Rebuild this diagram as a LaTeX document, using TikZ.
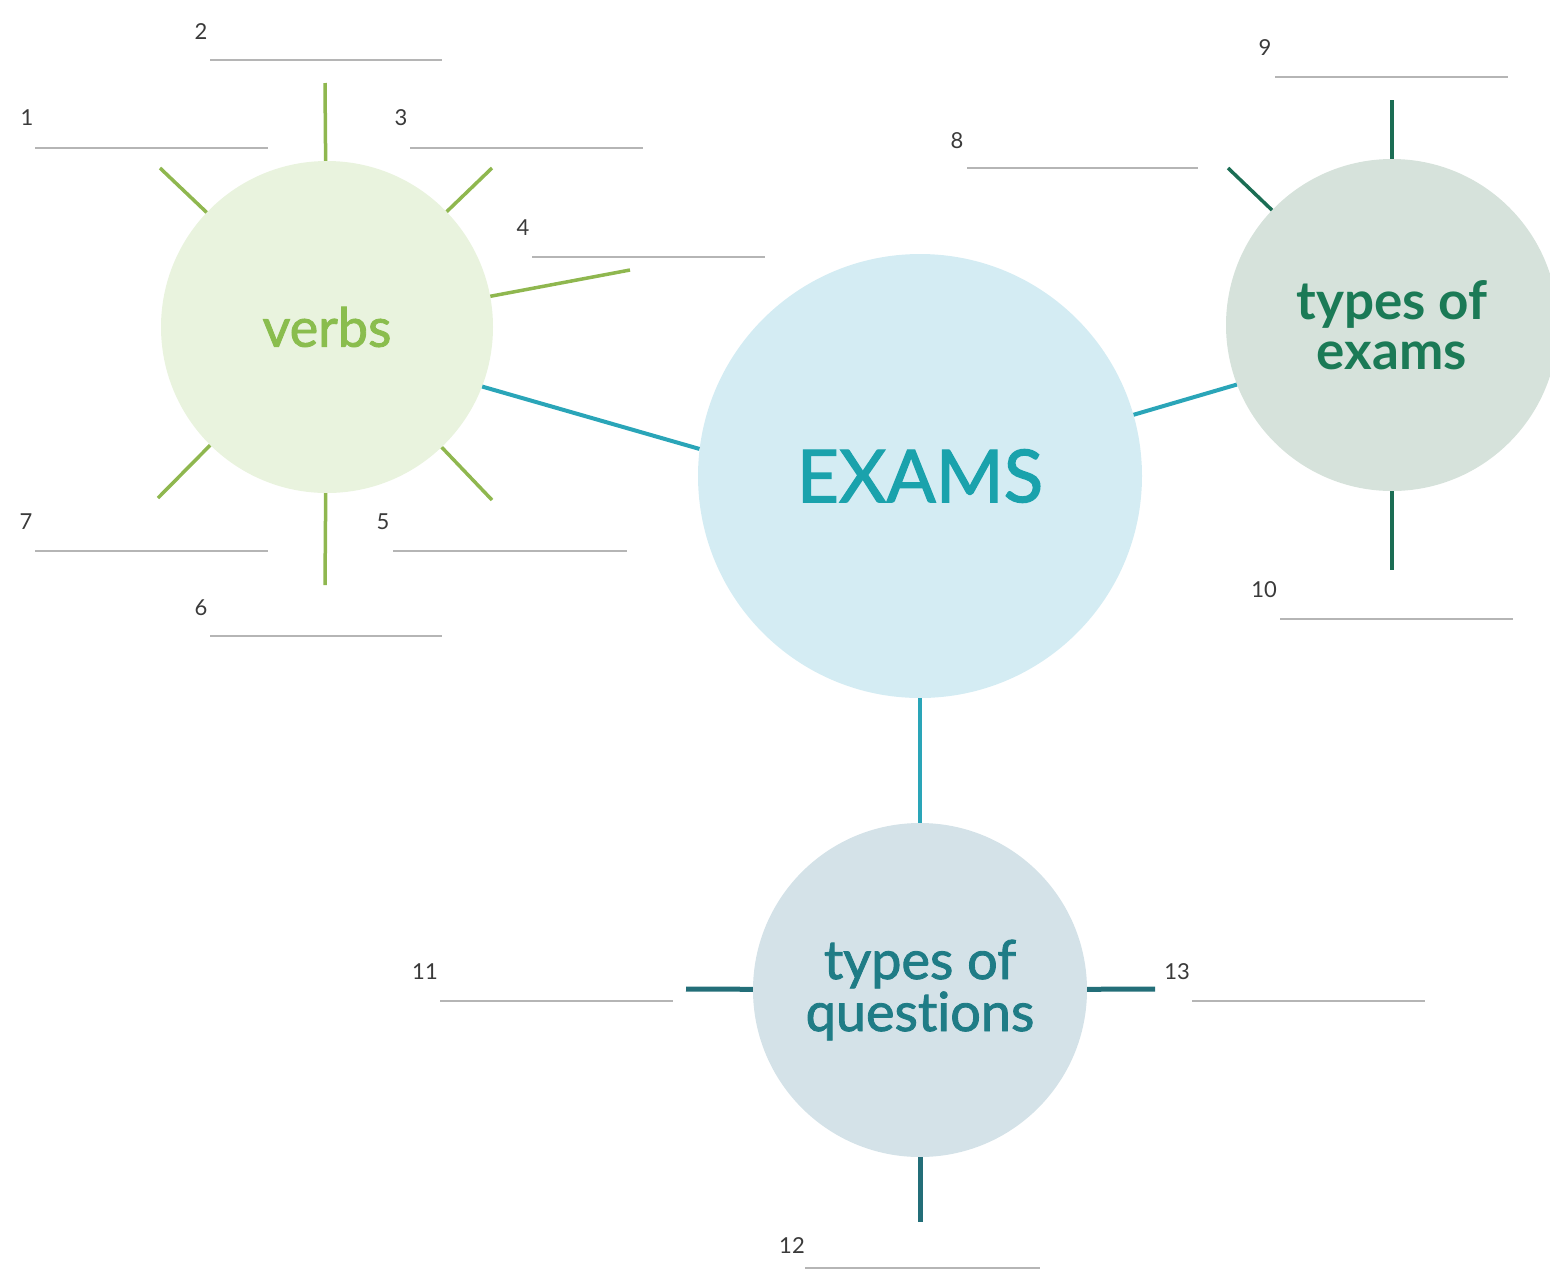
\documentclass[tikz,border=0pt]{standalone}
\usepackage{fontspec}
\setmainfont{Lato}
\newfontfamily\latobold[Ligatures=NoCommon]{Lato Bold}
\newfontfamily\latomed[Ligatures=NoCommon,RawFeature={embolden=1.6}]{Lato}
\definecolor{verbfill}{HTML}{E9F3DE}
\definecolor{verbtext}{HTML}{8ABD4E}
\definecolor{verbspoke}{HTML}{8FB74F}
\definecolor{examfill}{HTML}{D4ECF3}
\definecolor{examtext}{HTML}{1AA2AC}
\definecolor{examline}{HTML}{2AA5B8}
\definecolor{tefill}{HTML}{D6E2DB}
\definecolor{tetext}{HTML}{1B7A56}
\definecolor{tespoke}{HTML}{1B6D54}
\definecolor{tqfill}{HTML}{D4E2E8}
\definecolor{tqtext}{HTML}{1F7C86}
\definecolor{tqspoke}{HTML}{236E78}
\definecolor{blankgray}{HTML}{B5B5B5}
\definecolor{numgray}{HTML}{3A3A3A}
\tikzset{
  bubble/.style={circle, inner sep=0pt, align=center},
  numlabel/.style={font=\fontsize{22}{22}\selectfont, text=numgray, inner sep=0pt},
  blankline/.style={draw=blankgray, line width=2.2pt},
  vspoke/.style={draw=verbspoke, line width=3.5pt},
  tespokestyle/.style={draw=tespoke, line width=3.5pt},
  tqspokestyle/.style={draw=tqspoke, line width=5pt},
  mainlink/.style={draw=examline, line width=4pt},
}
\begin{document}
\begin{tikzpicture}[x=1pt,y=-1pt]
\useasboundingbox (0,0) rectangle (1550,1270);
% bubbles
\node[bubble, fill=verbfill, minimum size=332pt, text=verbtext,
      font=\latomed\fontsize{54}{54}\selectfont] (verbs) at (327,327) {verbs};
\node[bubble, fill=examfill, minimum size=444pt, text=examtext,
      font=\latomed\fontsize{73}{73}\selectfont] (exams) at (920,476) {EXAMS};
\node[bubble, fill=tefill, minimum size=332pt, text=tetext,
      font=\latobold\fontsize{53}{50}\selectfont] (texams) at (1392,325) {types of\\exams};
\node[bubble, fill=tqfill, minimum size=334pt, text=tqtext,
      font=\latomed\fontsize{54}{52}\selectfont] (tquest) at (920,990) {types of\\questions};

% main links
\draw[mainlink] (verbs.-21) -- (exams.173);
\draw[mainlink] (exams.16) -- (texams.201);
\draw[mainlink] (exams) -- (tquest);

% verbs spokes
\coordinate (v1) at (160,168);
\coordinate (v2) at (325,83);
\coordinate (v3) at (492,168);
\coordinate (v4) at (630,270);
\coordinate (v5) at (492,500);
\coordinate (v6) at (325,585);
\coordinate (v7) at (158,498);
\foreach \c in {v1,v2,v3,v4,v5,v6,v7} \draw[vspoke] (verbs) -- (\c);

% types of exams spokes
\coordinate (t8) at (1228,168);
\coordinate (t9) at (1392,100);
\coordinate (t10) at (1392,570);
\foreach \c in {t8,t9,t10} \draw[tespokestyle] (texams) -- (\c);

% types of questions spokes
\coordinate (q11) at (686,989);
\coordinate (q12) at (920,1222);
\coordinate (q13) at (1155,989);
\foreach \c in {q11,q12,q13} \draw[tqspokestyle] (tquest) -- (\c);

% numbered blanks
\node[numlabel] (n1) at (27,118) {1};
\draw[blankline] (35,148) -- (268,148);
\node[numlabel] (n2) at (201,32) {2};
\draw[blankline] (210,60) -- (442,60);
\node[numlabel] (n3) at (401,118) {3};
\draw[blankline] (410,148) -- (643,148);
\node[numlabel] (n4) at (523,228) {4};
\draw[blankline] (532,257) -- (765,257);
\node[numlabel] (n5) at (383,522) {5};
\draw[blankline] (393,551) -- (627,551);
\node[numlabel] (n6) at (201,608) {6};
\draw[blankline] (210,636) -- (442,636);
\node[numlabel] (n7) at (26,522) {7};
\draw[blankline] (35,551) -- (268,551);
\node[numlabel] (n8) at (957,141) {8};
\draw[blankline] (967,168) -- (1198,168);
\node[numlabel] (n9) at (1265,48) {9};
\draw[blankline] (1275,77) -- (1508,77);
\node[numlabel] (n10) at (1264,590) {10};
\draw[blankline] (1280,619) -- (1513,619);
\node[numlabel] (n11) at (425,972) {11};
\draw[blankline] (440,1001) -- (673,1001);
\node[numlabel] (n12) at (792,1246) {12};
\draw[blankline] (805,1268) -- (1040,1268);
\node[numlabel] (n13) at (1177,972) {13};
\draw[blankline] (1192,1001) -- (1425,1001);
\end{tikzpicture}
\end{document}
